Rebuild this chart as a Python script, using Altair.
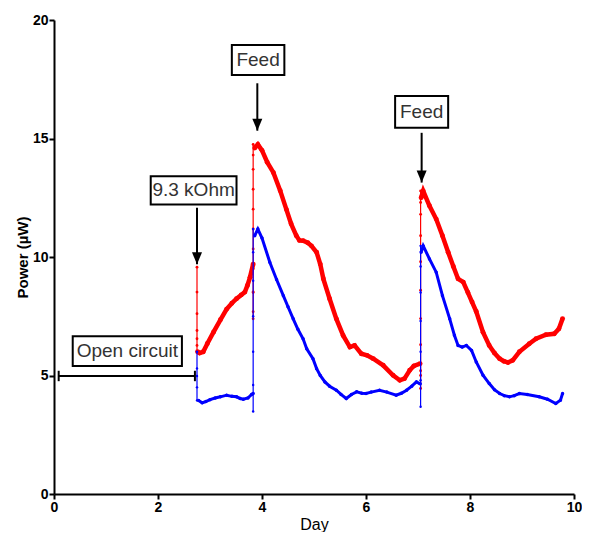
import altair as alt
import pandas as pd

# ---------------- data ----------------
# Red trace: thick curve segments
red_c1_x = [2.76, 2.80, 2.87, 2.95, 3.07, 3.20, 3.32, 3.42, 3.51, 3.60, 3.67, 3.72, 3.77, 3.83]
red_c1_y = [6.0, 5.95, 6.0, 6.35, 6.84, 7.35, 7.8, 8.05, 8.24, 8.4, 8.52, 8.8, 9.15, 9.7]
red_c2_x = [3.86, 3.92, 4.0, 4.1, 4.22, 4.35, 4.47, 4.56, 4.66, 4.72, 4.79, 4.88, 4.95, 5.05, 5.12,
            5.18, 5.30, 5.43, 5.56, 5.69, 5.78, 5.91, 6.02, 6.14, 6.33, 6.52, 6.65, 6.74, 6.84, 6.92, 7.04]
red_c2_y = [14.6, 14.75, 14.5, 14.0, 13.56, 12.8, 12.0, 11.4, 10.9, 10.7, 10.69, 10.6, 10.47, 10.2, 9.7,
            9.08, 8.24, 7.39, 6.69, 6.2, 6.27, 5.92, 5.85, 5.71, 5.43, 5.01, 4.8, 4.87, 5.22, 5.4, 5.5]
red_c3_x = [7.06, 7.10, 7.22, 7.35, 7.47, 7.58, 7.68, 7.77, 7.87, 7.96, 8.04, 8.12, 8.25, 8.37, 8.47,
            8.57, 8.65, 8.73, 8.82, 8.95, 9.14, 9.27, 9.46, 9.62, 9.71, 9.78]
red_c3_y = [12.5, 12.79, 12.16, 11.6, 10.9, 10.2, 9.6, 9.08, 8.94, 8.5, 8.1, 7.7, 6.83, 6.27, 5.95,
            5.71, 5.6, 5.55, 5.64, 6.0, 6.34, 6.55, 6.72, 6.76, 6.97, 7.4]
# Red trace: thin vertical jumps (with their sparse sample dots)
red_j1_x = [2.75, 2.75, 2.75, 2.75, 2.75, 2.75, 2.75]
red_j1_y = [9.57, 8.52, 7.61, 6.9, 6.55, 6.27, 6.0]
red_j2_x = [3.83, 3.83, 3.83, 3.83, 3.83, 3.83, 3.83, 3.83, 3.83, 3.83, 3.83, 3.83, 3.83]
red_j2_y = [9.7, 8.5, 7.39, 7.69, 8.53, 9.5, 10.34, 11.18, 12.02, 12.86, 13.7, 14.3, 14.75]
red_j3_x = [7.05, 7.05, 7.05, 7.05, 7.05, 7.05, 7.05, 7.05, 7.05, 7.05, 7.05, 7.05]
red_j3_y = [5.5, 5.0, 4.45, 5.2, 6.3, 7.4, 8.6, 9.8, 10.9, 11.8, 12.3, 12.79]

# Blue trace: thick curve segments
blue_c1_x = [2.78, 2.85, 2.92, 3.0, 3.1, 3.2, 3.32, 3.42, 3.51, 3.58, 3.64, 3.73, 3.80, 3.83]
blue_c1_y = [3.95, 3.85, 3.9, 3.98, 4.05, 4.1, 4.17, 4.12, 4.1, 4.03, 4.0, 4.05, 4.2, 4.24]
blue_c2_x = [3.86, 3.92, 4.0, 4.15, 4.28, 4.41, 4.5, 4.6, 4.69, 4.79, 4.86, 4.98, 5.05, 5.12, 5.21,
             5.3, 5.43, 5.52, 5.62, 5.72, 5.82, 5.92, 6.0, 6.1, 6.26, 6.4, 6.58, 6.68, 6.78, 6.88,
             6.97, 7.04]
blue_c2_y = [10.9, 11.18, 10.8, 9.78, 9.05, 8.37, 7.9, 7.39, 6.95, 6.55, 6.13, 5.71, 5.29, 5.0, 4.73,
             4.55, 4.38, 4.2, 4.03, 4.2, 4.31, 4.25, 4.24, 4.3, 4.38, 4.3, 4.17, 4.25, 4.38, 4.55,
             4.73, 4.65]
blue_c3_x = [7.06, 7.10, 7.22, 7.35, 7.47, 7.61, 7.70, 7.77, 7.85, 7.93, 8.03, 8.12, 8.25, 8.37,
             8.47, 8.57, 8.66, 8.76, 8.85, 8.95, 9.1, 9.33, 9.49, 9.65, 9.74, 9.78]
blue_c3_y = [10.2, 10.47, 9.92, 9.36, 8.37, 7.39, 6.7, 6.27, 6.2, 6.27, 6.06, 5.57, 5.01, 4.66,
             4.4, 4.24, 4.15, 4.1, 4.15, 4.24, 4.2, 4.1, 4.0, 3.82, 3.96, 4.24]
blue_j1_x = [2.75, 2.75, 2.75, 2.75, 2.75]
blue_j1_y = [6.0, 5.3, 4.98, 4.5, 3.95]
blue_j2_x = [3.83, 3.83, 3.83, 3.83, 3.83, 3.83, 3.83, 3.83]
blue_j2_y = [4.24, 3.48, 4.6, 6.0, 7.5, 9.0, 10.2, 11.18]
blue_j3_x = [7.05, 7.05, 7.05, 7.05, 7.05, 7.05, 7.05, 7.05]
blue_j3_y = [4.65, 3.68, 4.8, 6.0, 7.3, 8.5, 9.6, 10.47]

# Annotation boxes
box_labels = ["Open circuit", "9.3 kOhm", "Feed", "Feed"]
box_x0 = [0.36, 1.86, 3.42, 6.56]
box_x1 = [2.46, 3.51, 4.43, 7.58]
box_y0 = [5.40, 12.22, 17.68, 15.45]
box_y1 = [6.66, 13.41, 18.94, 16.79]
# Arrows (shaft start, tip)
arrow_x = [2.75, 3.91, 7.07]
arrow_y_start = [12.08, 17.33, 15.24]
arrow_y_tip = [9.69, 15.33, 13.14]
# Open-circuit bracket
bracket_x0 = [0.09]
bracket_x1 = [2.71]
bracket_y = [4.98]
bracket_cap = 0.22

x_ticks = [0, 2, 4, 6, 8, 10]
y_ticks = [0, 5, 10, 15, 20]

# ---------------- tables ----------------
def seg_frame(pairs):
    rows = []
    for name, xs, ys in pairs:
        for i, (a, b) in enumerate(zip(xs, ys)):
            rows.append({"seg": name, "i": i, "day": a, "power": b})
    return pd.DataFrame(rows)

red_curve = seg_frame([("r1", red_c1_x, red_c1_y), ("r2", red_c2_x, red_c2_y), ("r3", red_c3_x, red_c3_y)])
red_jump = seg_frame([("rj1", red_j1_x, red_j1_y), ("rj2", red_j2_x, red_j2_y), ("rj3", red_j3_x, red_j3_y)])
blue_curve = seg_frame([("b1", blue_c1_x, blue_c1_y), ("b2", blue_c2_x, blue_c2_y), ("b3", blue_c3_x, blue_c3_y)])
blue_jump = seg_frame([("bj1", blue_j1_x, blue_j1_y), ("bj2", blue_j2_x, blue_j2_y), ("bj3", blue_j3_x, blue_j3_y)])

boxes = pd.DataFrame({"label": box_labels, "x0": box_x0, "x1": box_x1, "y0": box_y0, "y1": box_y1})
boxes["xc"] = (boxes.x0 + boxes.x1) / 2
boxes["yc"] = (boxes.y0 + boxes.y1) / 2
arrows = pd.DataFrame({"x": arrow_x, "y0": arrow_y_start, "y1": arrow_y_tip})
bracket = pd.DataFrame({"x0": bracket_x0, "x1": bracket_x1, "y": bracket_y})
caps = pd.DataFrame({"x": bracket_x0 + bracket_x1,
                     "y0": [bracket_y[0] - bracket_cap] * 2,
                     "y1": [bracket_y[0] + bracket_cap] * 2})

FONT = "Liberation Sans"
PLOT_W = 520
PLOT_H = 474
xs = alt.Scale(domain=[0, 10], nice=False, zero=False)
ys = alt.Scale(domain=[0, 20], nice=False)

X = alt.X("day:Q", scale=xs,
          axis=alt.Axis(title="Day", values=x_ticks, format="d", titleFontWeight="normal",
                        titleFontSize=16, titleY=30, titleBaseline="middle"))
Y = alt.Y("power:Q", scale=ys,
          axis=alt.Axis(title="Power (µW)", values=y_ticks, format="d", titleFontWeight="bold",
                        titleFontSize=15, titleX=-32, titleY=PLOT_H / 2, titleBaseline="middle",
                        titleAngle=270))


def line_layer(df, color, width):
    return alt.Chart(df).mark_line(color=color, strokeWidth=width).encode(
        x=X, y=Y, detail="seg:N", order="i:Q")


def dot_layer(df, color, size):
    return alt.Chart(df).mark_point(color=color, filled=True, size=size, opacity=1).encode(x=X, y=Y)


red_lines = line_layer(red_curve, "#ff0000", 4.5)
red_dots = dot_layer(red_curve, "#ff0000", 24)
red_jl = line_layer(red_jump, "#ff0000", 1.2)
red_jd = dot_layer(red_jump, "#ff0000", 8)
blue_lines = line_layer(blue_curve, "#0000ff", 3)
blue_dots = dot_layer(blue_curve, "#0000ff", 12)
blue_jl = line_layer(blue_jump, "#0000ff", 1.2)
blue_jd = dot_layer(blue_jump, "#0000ff", 6)

box_rects = alt.Chart(boxes).mark_rect(fill="white", stroke="black", strokeWidth=2).encode(
    x=alt.X("x0:Q", scale=xs), x2="x1:Q", y=alt.Y("y0:Q", scale=ys), y2="y1:Q")
box_text = alt.Chart(boxes).mark_text(font=FONT, fontSize=19, color="#333333",
                                       baseline="middle", align="center").encode(
    x=alt.X("xc:Q", scale=xs), y=alt.Y("yc:Q", scale=ys), text="label:N")

arrow_shaft = alt.Chart(arrows).mark_rule(color="black", strokeWidth=2).encode(
    x=alt.X("x:Q", scale=xs), y=alt.Y("y0:Q", scale=ys), y2="y1:Q")
arrow_head = alt.Chart(arrows).mark_point(
    shape="M-1,-2.4L1,-2.4L0,0Z", filled=True, color="black", size=100, opacity=1).encode(
    x=alt.X("x:Q", scale=xs), y=alt.Y("y1:Q", scale=ys))

bracket_line = alt.Chart(bracket).mark_rule(color="black", strokeWidth=2).encode(
    x=alt.X("x0:Q", scale=xs), x2="x1:Q", y=alt.Y("y:Q", scale=ys))
bracket_caps = alt.Chart(caps).mark_rule(color="black", strokeWidth=2).encode(
    x=alt.X("x:Q", scale=xs), y=alt.Y("y0:Q", scale=ys), y2="y1:Q")

chart = alt.layer(
    red_lines, red_dots, red_jl, red_jd,
    blue_jl, blue_jd, blue_lines, blue_dots,
    bracket_line, bracket_caps,
    arrow_shaft, arrow_head,
    box_rects, box_text,
).properties(
    width=PLOT_W, height=PLOT_H,
    autosize=alt.AutoSizeParams(type="none"),
    padding={"left": 46, "top": 12, "right": 8, "bottom": 38},
).configure_view(stroke=None).configure_axis(
    grid=False, domainColor="black", domainWidth=2, tickColor="black", tickWidth=2,
    tickSize=5, labelFont=FONT, labelFontSize=14, labelFontWeight="bold", labelColor="black",
    titleFont=FONT, titleColor="black", labelPadding=1, labelFlush=False, labelOverlap=False,
)

chart.save("out.html", embed_options={"renderer": "svg", "actions": False})
